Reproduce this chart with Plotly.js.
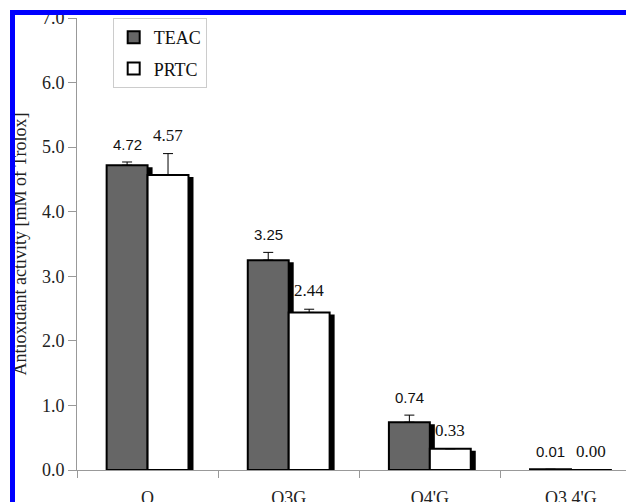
<!DOCTYPE html>
<html>
<head>
<meta charset="utf-8">
<script src="https://cdn.plot.ly/plotly-3.0.1.min.js"></script>
<style>
  html, body { margin: 0; padding: 0; background: #fff; }
  #wrap { position: relative; width: 626px; height: 502px; overflow: hidden; }
  #chart { position: absolute; left: 0; top: 0; width: 626px; height: 502px; }
  #frame {
    position: absolute; left: 10px; top: 10px; right: 0; bottom: 0;
    border-top: 5px solid #0000ff; border-left: 5px solid #0000ff;
    pointer-events: none; z-index: 10;
  }
  /* solid offset shadow behind each bar */
  .barlayer .point path { filter: drop-shadow(4px 3px 0 #000); }
</style>
</head>
<body>
<div id="wrap">
  <div id="chart"></div>
  <div id="frame"></div>
</div>
<script>
// Antioxidant activity of quercetin and its glucosides
const categories = ["Q", "Q3G", "Q4'G", "Q3,4'G"];
const teac = [4.72, 3.25, 0.74, 0.01];
const prtc = [4.57, 2.44, 0.33, 0.00];
const teacErr = [0.05, 0.12, 0.11, 0];
const prtcErr = [0.33, 0.05, 0, 0];
const yTicks = [0, 1, 2, 3, 4, 5, 6, 7];

const serif = "Liberation Serif";
const sans = "Liberation Sans";
const bargap = 0.42;
const half = (1 - bargap) / 4;

function zeros(n) { return new Array(n).fill(0); }

const traces = [
  {
    type: "bar", name: "TEAC", x: categories, y: teac, legendgroup: "a",
    marker: { color: "#666666", line: { color: "#000", width: 2 } },
    error_y: { type: "data", array: teacErr, arrayminus: zeros(teac.length), symmetric: false,
               color: "#000", thickness: 1, width: 5 },
    hoverinfo: "skip"
  },
  {
    type: "bar", name: "PRTC", x: categories, y: prtc, legendgroup: "b",
    marker: { color: "#ffffff", line: { color: "#000", width: 2 } },
    error_y: { type: "data", array: prtcErr, arrayminus: zeros(prtc.length), symmetric: false,
               color: "#000", thickness: 1, width: 5 },
    hoverinfo: "skip"
  }
];

// value labels above each bar (TEAC in sans, PRTC in serif)
const annotations = [];
categories.forEach((c, i) => {
  annotations.push({
    x: i - half, y: teac[i] + teacErr[i], xref: "x", yref: "y",
    text: teac[i].toFixed(2), showarrow: false, yanchor: "bottom", yshift: 7,
    font: { family: sans, size: 15, color: "#111" }
  });
  annotations.push({
    x: i + half, y: prtc[i] + prtcErr[i], xref: "x", yref: "y",
    text: prtc[i].toFixed(2), showarrow: false, yanchor: "bottom", yshift: 7,
    font: { family: serif, size: 17, color: "#111" }
  });
});

const layout = {
  width: 626, height: 502,
  margin: { l: 77, r: 0, t: 18, b: 32, pad: 0 },
  paper_bgcolor: "#fff", plot_bgcolor: "#fff",
  barmode: "group", bargap: bargap, bargroupgap: 0,
  showlegend: true,
  legend: {
    x: 0.065, y: 1, xanchor: "left", yanchor: "top",
    traceorder: "grouped", tracegroupgap: 5,
    bgcolor: "#fff", bordercolor: "#cccccc", borderwidth: 1,
    font: { family: serif, size: 18, color: "#111" }
  },
  xaxis: {
    type: "category", range: [-0.5, 3.39],
    tickson: "boundaries", ticks: "outside", ticklen: 7, tickcolor: "#999",
    showline: true, linecolor: "#999", linewidth: 1,
    showgrid: false, zeroline: false,
    ticklabelstandoff: 11,
    tickfont: { family: serif, size: 18, color: "#222" }
  },
  yaxis: {
    range: [0, 7], tickvals: yTicks, tickformat: ".1f",
    ticks: "outside", ticklen: 8, tickcolor: "#999",
    showline: true, linecolor: "#999", linewidth: 1,
    showgrid: false, zeroline: false,
    tickfont: { family: serif, size: 18, color: "#222" },
    title: { text: "Antioxidant activity [mM of Trolox]", standoff: 10,
             font: { family: serif, size: 18, color: "#222" } }
  },
  annotations: annotations
};

Plotly.newPlot("chart", traces, layout, { displayModeBar: false, staticPlot: true });
</script>
</body>
</html>
